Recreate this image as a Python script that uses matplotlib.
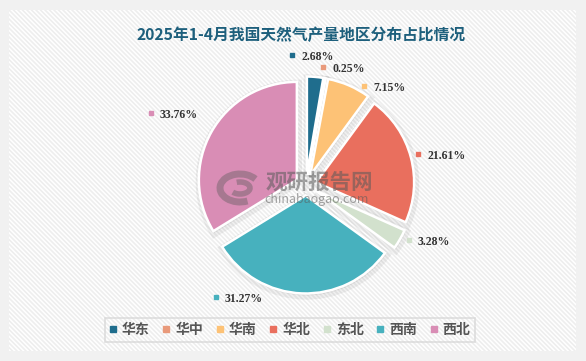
import matplotlib
matplotlib.use("Agg")
import matplotlib.pyplot as plt
import numpy as np
from matplotlib.patches import Rectangle, Arc
from matplotlib.lines import Line2D
from matplotlib.collections import LineCollection

# ---------------- data ----------------
regions = ["华东", "华中", "华南", "华北", "东北", "西南", "西北"]
shares = [2.68, 0.25, 7.15, 21.61, 3.28, 31.27, 33.76]
colors = ["#1f6d8d", "#e99a7b", "#fdc276", "#e96f5e", "#d2e1cd", "#47b1be", "#d98db5"]
title = "2025年1-4月我国天然气产量地区分布占比情况"

# ---------------- layout ----------------
W, H = 586, 361
CX, CY = 306, H - 185       # pie centre (pixel coords, y up)
R = 98                      # pie radius in pixels
EXPLODE = 0.107 * R         # matplotlib explode is in data units
# label marker positions in polar form (angle deg, radius as multiple of R)
label_polar = [(96.0, 1.33), (81.7, 1.22), (59.6, 1.17), (15.3, 1.19),
               (-28.0, 1.19), (-128.9, 1.47), (155.0, 1.75)]

plt.rcParams['font.family'] = ['Noto Sans CJK SC', 'DejaVu Sans']

fig = plt.figure(figsize=(W / 100, H / 100), dpi=100)
fig.patch.set_facecolor("#f1f1f1")
ax = fig.add_axes([0, 0, 1, 1])

# panel with diagonal stripes
panel = Rectangle((9, 10), 567, H - 20, facecolor="white", edgecolor="none", zorder=0)
ax.add_patch(panel)
segs = []
for c in np.arange(-H, W + H, 4.5):
    segs.append([(c, H), (c + H, 0)])
lc = LineCollection(segs, colors="#eeeeee", linewidths=1.2, zorder=0.5)
ax.add_collection(lc)
lc.set_clip_path(panel)

# shadow layer
wedges_s, _ = ax.pie(shares, startangle=90, counterclock=False, center=(CX + 1, CY - 2),
                     radius=R, explode=[EXPLODE] * len(shares),
                     colors=["#000000"] * len(shares),
                     wedgeprops=dict(edgecolor="#000000", linewidth=6, alpha=0.06))
for w in wedges_s:
    w.set_zorder(1)

wedges, _ = ax.pie(shares, startangle=90, counterclock=False, center=(CX, CY),
                   radius=R, explode=[EXPLODE] * len(shares), colors=colors,
                   wedgeprops=dict(edgecolor="white", linewidth=1.8))
for w in wedges:
    w.set_zorder(2)

ax.set_xlim(0, W)
ax.set_ylim(0, H)
ax.set_aspect("auto")
ax.axis("off")

# title
ax.text(301, H - 35, title, ha="center", va="center", fontsize=11.3, fontweight="bold",
        color="#1d5f7c", zorder=5)

# value labels
for (ang, rr), val, col in zip(label_polar, shares, colors):
    mx = CX + rr * R * np.cos(np.radians(ang))
    my = CY + rr * R * np.sin(np.radians(ang))
    ax.plot(mx, my, marker="s", markersize=2.6, color=col, linestyle="none", zorder=5)
    ax.text(mx + 9, my - 2, f"{val:.2f}%", ha="left", va="center", fontsize=8.5,
            fontweight="bold", color="#333333", family="Liberation Serif", zorder=5)

# watermark
wm = "#5a5a5a"
ax.add_patch(Arc((240, H - 188), 40, 28, theta1=30, theta2=300, color=wm, lw=5, alpha=0.4, zorder=4))
ax.add_patch(Arc((240, H - 188), 20, 12, theta1=210, theta2=480, color=wm, lw=4, alpha=0.4, zorder=4))
ax.text(319, H - 182, "观研报告网", ha="center", va="center", fontsize=15.5,
        fontweight="bold", color=wm, alpha=0.55, zorder=4)
ax.text(317, H - 200, "chinabaogao.com", ha="center", va="center", fontsize=9,
        color=wm, alpha=0.55, zorder=4)

# legend
handles = [Line2D([0], [0], marker="s", linestyle="none", markersize=4.5,
                  markerfacecolor=c, markeredgecolor=c) for c in colors]
leg = ax.legend(handles, regions, loc="center", bbox_to_anchor=(290 / W, 1 - 330 / H),
                ncol=len(regions), frameon=True, fancybox=False, handlelength=0.5,
                handletextpad=0.4, columnspacing=0.95, borderpad=0.35,
                prop=dict(size=10, weight="bold"))
leg.get_frame().set_edgecolor("#d6d6d6")
leg.get_frame().set_linewidth(1.2)
leg.get_frame().set_facecolor("none")
leg.set_zorder(6)
for t in leg.get_texts():
    t.set_color("#555555")

fig.savefig("out.png", dpi=100, facecolor=fig.get_facecolor())
